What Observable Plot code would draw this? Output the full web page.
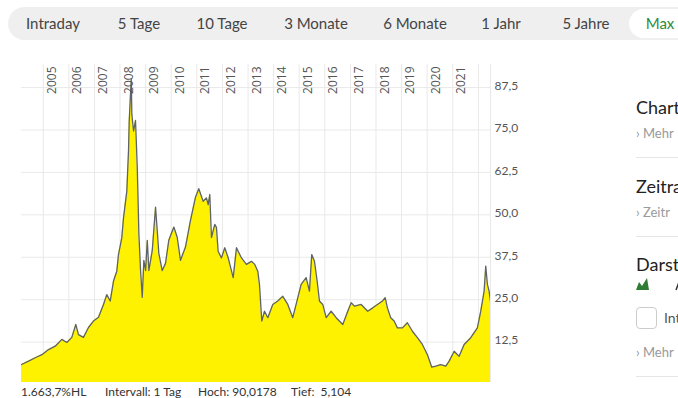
<!DOCTYPE html>
<html>
<head>
<meta charset="utf-8">
<script src="https://cdn.jsdelivr.net/npm/d3@7"></script>
<script src="https://cdn.jsdelivr.net/npm/@observablehq/plot@0.6"></script>
<style>
  html, body { margin: 0; padding: 0; width: 678px; height: 398px; overflow: hidden; background: #fff; font-family: Lato, "Open Sans", sans-serif; }
  .abs { position: absolute; white-space: nowrap; }
  #tabs { position: absolute; left: 8px; top: 7px; width: 720px; height: 33px; background: #efefef; border-radius: 17px; }
  .tab { position: absolute; top: 23px; transform: translate(-50%, -50%); font-size: 15px; color: #444; white-space: nowrap; }
  #maxpill { position: absolute; left: 629px; top: 9px; width: 90px; height: 29px; background: #fff; border-radius: 15px; }
  #chart { position: absolute; left: 0; top: 50px; }
  .stat { position: absolute; top: 385px; height: 13px; line-height: 13px; font-size: 12px; color: #333; font-family: Lato, sans-serif; }
  .side-h { font-size: 18px; color: #222; }
  .side-l { font-size: 13px; color: #999; }
  .sep { position: absolute; left: 636px; width: 60px; height: 1px; background: #e6e6e6; }
</style>
</head>
<body>
<div id="tabs"></div>
<div id="maxpill"></div>
<div id="chart"></div>
<script>
// ---- data ----
const tabLabels = ["Intraday", "5 Tage", "10 Tage", "3 Monate", "6 Monate", "1 Jahr", "5 Jahre", "Max"];
const dates = [
  "2004-02-25","2004-06-05","2004-09-08","2004-12-12","2005-03-17","2005-06-20","2005-09-23","2005-12-03",
  "2006-02-12","2006-04-10","2006-05-18","2006-07-28","2006-10-08","2006-12-18","2007-02-28","2007-05-10",
  "2007-06-26","2007-08-14","2007-09-30","2007-11-16","2007-12-10","2008-01-26","2008-02-20","2008-04-07",
  "2008-05-01","2008-05-11","2008-06-09","2008-06-18","2008-07-12","2008-08-09","2008-09-03","2008-09-26",
  "2008-10-20","2008-11-13","2008-12-06","2008-12-31","2009-01-24","2009-02-16","2009-04-05","2009-05-22",
  "2009-06-15","2009-07-08","2009-08-25","2009-10-11","2009-11-27","2010-02-07","2010-03-27","2010-05-13",
  "2010-07-23","2010-10-02","2010-12-13","2011-01-29","2011-04-01","2011-05-18","2011-06-12","2011-07-05",
  "2011-07-29","2011-09-14","2011-10-08","2011-11-01","2011-12-18","2012-02-04","2012-03-24","2012-06-03",
  "2012-07-20","2012-09-29","2012-12-09","2013-02-19","2013-04-07","2013-05-20","2013-06-13","2013-07-16",
  "2013-08-24","2013-10-10","2013-12-20","2014-03-01","2014-05-12","2014-07-22","2014-10-01","2014-11-18",
  "2015-01-29","2015-04-10","2015-05-27","2015-06-29","2015-08-07","2015-09-14","2015-10-17","2015-12-03",
  "2016-01-21","2016-04-01","2016-06-12","2016-09-14","2016-11-24","2017-01-12","2017-02-28","2017-06-03",
  "2017-09-05","2017-11-16","2018-01-22","2018-04-03","2018-05-12","2018-06-13","2018-07-30","2018-09-17",
  "2018-11-03","2019-01-14","2019-03-25","2019-06-05","2019-08-15","2019-10-25","2020-01-05","2020-03-07",
  "2020-05-03","2020-07-13","2020-09-23","2020-11-10","2021-01-21","2021-04-01","2021-06-12","2021-09-14",
  "2021-12-18","2022-02-04","2022-03-24","2022-04-16","2022-05-10","2022-06-03","2022-06-23"
];
const values = [
  5.9, 6.9, 7.9, 8.8, 10.3, 11.3, 13.3, 12.4,
  13.9, 17.7, 14.7, 13.9, 16.8, 18.7, 19.8, 23.6,
  26.5, 24.6, 30.5, 33.4, 38.3, 43.2, 49.2, 57.0,
  68.8, 77.6, 90.0, 79.6, 74.7, 77.8, 64.0, 44.5,
  33.6, 25.7, 36.6, 33.6, 42.5, 33.6, 39.5, 52.3,
  45.4, 38.6, 33.6, 35.7, 42.5, 46.4, 43.4, 36.6,
  40.5, 48.3, 55.2, 57.7, 54.0, 55.0, 53.0, 56.0,
  43.3, 47.2, 46.3, 39.3, 37.3, 40.3, 37.3, 31.5,
  40.3, 37.3, 35.4, 36.3, 35.4, 33.4, 29.5, 18.7,
  21.6, 19.7, 23.6, 24.6, 26.0, 23.6, 19.7, 23.6,
  29.5, 31.5, 27.5, 38.3, 36.3, 30.5, 24.6, 23.6,
  19.7, 21.6, 19.7, 17.7, 21.6, 24.1, 23.1, 23.6,
  21.6, 22.6, 23.6, 24.6, 25.6, 22.6, 19.7, 18.7,
  16.7, 16.7, 18.2, 15.7, 13.8, 11.8, 8.8, 5.1,
  5.4, 5.9, 5.4, 6.9, 9.8, 8.3, 11.8, 13.8,
  16.7, 21.6, 27.5, 34.9, 29.5, 27.5, 24.6
];
const gridYears = [2005,2006,2007,2008,2009,2010,2011,2012,2013,2014,2015,2016,2017,2018,2019,2020,2021,2022];
const labelYears = [2005,2006,2007,2008,2009,2010,2011,2012,2013,2014,2015,2016,2017,2018,2019,2020,2021];
const yTicks = [12.5, 25, 37.5, 50, 62.5, 75, 87.5];
const xDomain = ["2004-02-25", "2022-06-23"];
const yDomain = [0.6, 94.3];
const stats = [["1.663,7%HL", 21], ["Intervall: 1 Tag", 105], ["Hoch: 90,0178", 198], ["Tief:  5,104", 291]];
const sideTexts = [["side-h", "Chart", 96], ["side-l", "\u203A Mehr", 125], ["side-h", "Zeitra", 175],
                   ["side-l", "\u203A Zeitr", 204], ["side-h", "Darst", 253], ["side-l", "\u203A Mehr", 344]];

// ---- build ----
const parse = d3.utcParse("%Y-%m-%d");
const data = dates.map((d, i) => ({date: parse(d), value: values[i]}));
const yearDate = y => new Date(Date.UTC(y, 0, 1));
const de = d3.formatLocale({decimal: ",", thousands: ".", grouping: [3], currency: ["", "€"]});
const fmt = de.format(".1f");

const chart = Plot.plot({
  width: 530,
  height: 340,
  marginLeft: 21,
  marginRight: 40,
  marginTop: 14,
  marginBottom: 8,
  style: {fontFamily: "Lato, 'Open Sans', sans-serif", fontSize: "12px", background: "transparent"},
  x: {type: "utc", domain: xDomain.map(parse), axis: null},
  y: {domain: yDomain, axis: null},
  marks: [
    Plot.ruleY(yTicks, {stroke: "#e9e9e9", strokeWidth: 1}),
    Plot.ruleX(gridYears.map(yearDate), {stroke: "#e9e9e9", strokeWidth: 1}),
    Plot.areaY(data, {x: "date", y: "value", fill: "#fff200", clip: true}),
    Plot.lineY(data, {x: "date", y: "value", stroke: "#5d636b", strokeWidth: 1.3, clip: true}),
    Plot.ruleX([parse(xDomain[1])], {stroke: "#e9e9e9", strokeWidth: 1}),
    Plot.text(labelYears, {x: yearDate, text: d => String(d), frameAnchor: "top", rotate: -90, textAnchor: "end", dx: 4, dy: 2, fill: "#555", fontSize: 12, fontFamily: "'Open Sans', sans-serif"}),
    Plot.axisY(yTicks, {anchor: "right", label: null, tickSize: 0, tickPadding: 4, tickFormat: fmt, color: "#555", fontSize: 12, dy: -1.5})
  ]
});
document.getElementById("chart").appendChild(chart);

// tabs
const tabX = [53, 139, 222, 316, 415, 501, 586, 660];
tabLabels.forEach((t, i) => {
  const el = document.createElement("div");
  el.className = "tab";
  el.style.left = tabX[i] + "px";
  el.textContent = t;
  if (t === "Max") el.style.color = "#2e8b3a";
  document.body.appendChild(el);
});

// stats
stats.forEach(([t, x]) => {
  const el = document.createElement("div");
  el.className = "stat";
  el.style.left = x + "px";
  el.style.whiteSpace = "pre";
  el.textContent = t;
  document.body.appendChild(el);
});

// sidebar
sideTexts.forEach(([c, t, y]) => {
  const el = document.createElement("div");
  el.className = "abs " + c;
  el.style.left = "636px";
  el.style.top = y + "px";
  el.textContent = t;
  document.body.appendChild(el);
});
[157, 236, 376].forEach(y => {
  const el = document.createElement("div");
  el.className = "sep";
  el.style.top = y + "px";
  document.body.appendChild(el);
});
const ic = document.createElementNS("http://www.w3.org/2000/svg", "svg");
ic.setAttribute("width", "50"); ic.setAttribute("height", "20");
ic.style.position = "absolute"; ic.style.left = "634px"; ic.style.top = "274px";
ic.innerHTML = '<path d="M2 16 L5 8 L8 12 L13 4 L15 16 Z" fill="#2e7d32"/><path d="M42 16 L45 8 L48 12" fill="none" stroke="#333" stroke-width="1.5"/>';
document.body.appendChild(ic);
const cb = document.createElement("div");
cb.className = "abs";
cb.style.cssText = "position:absolute;left:636px;top:307px;width:19px;height:20px;border:1px solid #ccc;border-radius:4px;";
document.body.appendChild(cb);
const it = document.createElement("div");
it.className = "abs side-l";
it.style.cssText = "left:664px;top:309px;color:#555;font-size:14px;";
it.textContent = "Int";
document.body.appendChild(it);
</script>
</body>
</html>
